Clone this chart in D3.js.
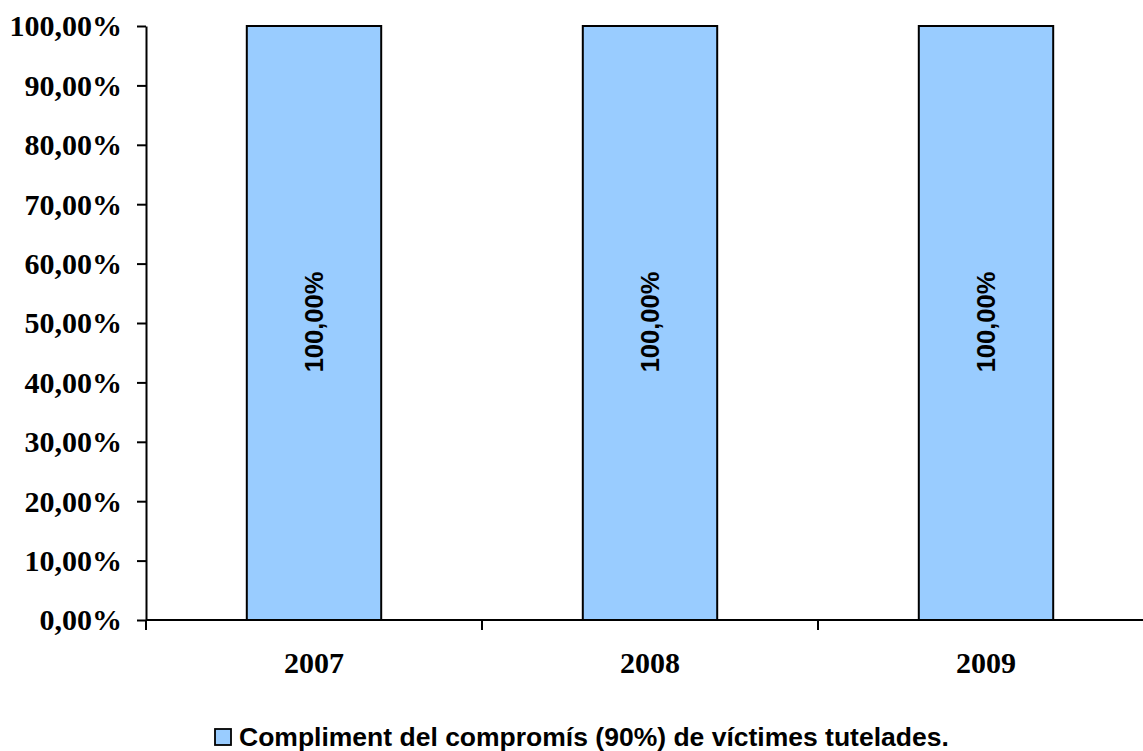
<!DOCTYPE html>
<html><head><meta charset="utf-8">
<script src="https://cdn.jsdelivr.net/npm/d3@7"></script>
<style>body{margin:0;background:#fff}</style>
</head><body>
<svg id="c" width="1143" height="751"></svg>
<script>
const categories = ["2007","2008","2009"];
const values = [100, 100, 100];
const yTicks = [0,10,20,30,40,50,60,70,80,90,100];
const seriesName = "Compliment del compromís (90%) de víctimes tutelades.";

(function(){
const svg = d3.select("#c");
const mLeft = 146, mTop = 26, mBottom = 620, bandW = 336;
const x = d3.scaleBand().domain(categories).range([mLeft, mLeft + bandW*categories.length]).paddingInner(0).paddingOuter(0);
const y = d3.scaleLinear().domain([0,100]).range([mBottom, mTop]);
const fmt = v => v.toFixed(2).replace(".", ",") + "%";

const barW = bandW * 0.4;
svg.selectAll("rect.bar").data(values).join("rect")
  .attr("x", (d,i) => x(categories[i]) + (bandW - barW)/2)
  .attr("y", d => y(d))
  .attr("width", barW)
  .attr("height", d => y(0) - y(d))
  .attr("fill", "#99CCFF").attr("stroke", "#000").attr("stroke-width", 2);

svg.selectAll("text.lbl").data(values).join("text")
  .attr("transform", (d,i) => `translate(${x(categories[i]) + bandW/2 + 9},${(y(d)+y(0))/2 - 1}) rotate(-90)`)
  .attr("text-anchor", "middle")
  .attr("font-family", "Liberation Sans, Arial, sans-serif")
  .attr("font-weight", "bold").attr("font-size", 25.5)
  .text(d => fmt(d));

const yAxis = d3.axisLeft(y).tickValues(yTicks).tickFormat(fmt).tickSize(9).tickSizeOuter(0);
const gy = svg.append("g").attr("transform", `translate(${mLeft},0)`).call(yAxis);
gy.select(".domain").attr("stroke", "#000").attr("stroke-width", 2);
gy.selectAll(".tick line").attr("stroke", "#000").attr("stroke-width", 2);
gy.selectAll(".tick text").attr("font-family", "Liberation Serif, 'Times New Roman', serif")
  .attr("font-weight", "bold").attr("font-size", 30).attr("fill", "#000").attr("x", -24).attr("dy", "0.33em");

const xTickScale = d3.scaleLinear().domain([0, categories.length]).range([mLeft, mLeft + bandW*categories.length]);
svg.append("line").attr("x1", mLeft).attr("x2", 1143).attr("y1", mBottom).attr("y2", mBottom)
  .attr("stroke", "#000").attr("stroke-width", 2);
svg.selectAll("line.xt").data(d3.range(0, categories.length + 1)).join("line")
  .attr("x1", d => xTickScale(d)).attr("x2", d => xTickScale(d))
  .attr("y1", mBottom).attr("y2", mBottom + 10)
  .attr("stroke", "#000").attr("stroke-width", 2);
svg.selectAll("text.xl").data(categories).join("text")
  .attr("x", d => x(d) + bandW/2).attr("y", 673)
  .attr("text-anchor", "middle")
  .attr("font-family", "Liberation Serif, 'Times New Roman', serif")
  .attr("font-weight", "bold").attr("font-size", 30)
  .text(d => d);

svg.append("rect").attr("x", 215).attr("y", 729).attr("width", 16).attr("height", 16)
  .attr("fill", "#99CCFF").attr("stroke", "#000").attr("stroke-width", 1.8);
svg.append("text").attr("x", 239).attr("y", 746)
  .attr("font-family", "Liberation Sans, Arial, sans-serif")
  .attr("font-weight", "bold").attr("font-size", 26.5)
  .text(seriesName);
})();
</script>
</body></html>
